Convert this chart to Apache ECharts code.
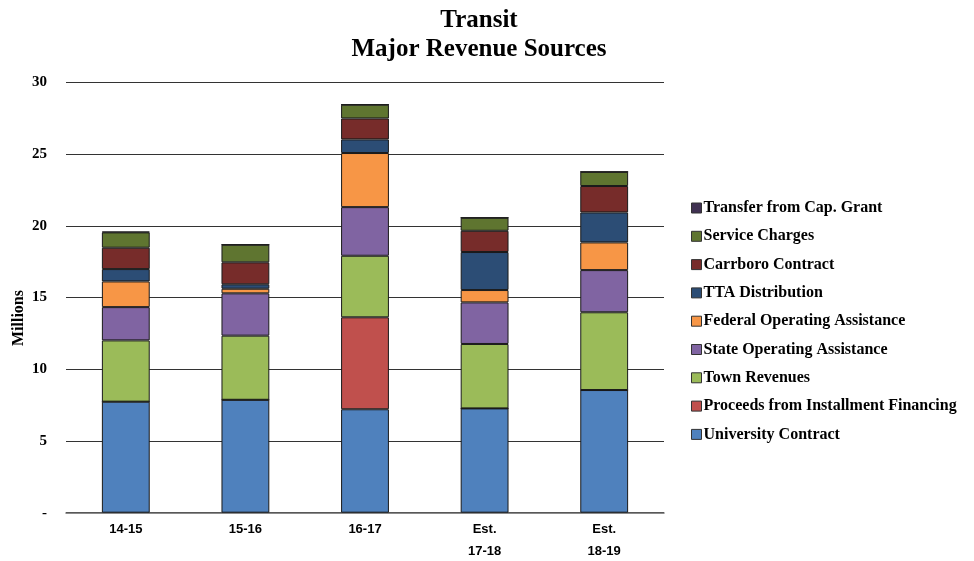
<!DOCTYPE html>
<html>
<head>
<meta charset="utf-8">
<script src="https://cdn.jsdelivr.net/npm/echarts@6/dist/echarts.min.js"></script>
<style>
  html, body { margin: 0; padding: 0; background: #fff; }
  #chart { width: 974px; height: 561px; }
</style>
</head>
<body>
<div id="chart"></div>
<script>
// Fiscal years on the category axis
const years = ['14-15', '15-16', '16-17', 'Est.\n17-18', 'Est.\n18-19'];

// Revenue by source, in millions of dollars
const universityContract = [7.74, 7.87, 7.21, 7.27, 8.55];
const installmentFinancing = [0, 0, 6.41, 0, 0];
const townRevenues = [4.27, 4.47, 4.29, 4.49, 5.42];
const stateOperating = [2.32, 2.95, 3.39, 2.90, 2.94];
const federalOperating = [1.79, 0.32, 3.77, 0.86, 1.93];
const ttaDistribution = [0.86, 0.31, 0.95, 2.65, 2.09];
const carrboroContract = [1.49, 1.53, 1.46, 1.48, 1.84];
const serviceCharges = [1.07, 1.23, 0.96, 0.91, 0.99];
const capGrantTransfer = [0.05, 0, 0, 0, 0];

// Y-axis ticks
const yTicks = [0, 5, 10, 15, 20, 25, 30];

const seriesDefs = [
  ['University Contract', universityContract, '#4F81BD'],
  ['Proceeds from Installment Financing', installmentFinancing, '#C0504D'],
  ['Town Revenues', townRevenues, '#9BBB59'],
  ['State Operating Assistance', stateOperating, '#8064A2'],
  ['Federal Operating Assistance', federalOperating, '#F79646'],
  ['TTA Distribution', ttaDistribution, '#2C4D75'],
  ['Carrboro Contract', carrboroContract, '#772C2A'],
  ['Service Charges', serviceCharges, '#5F7530'],
  ['Transfer from Cap. Grant', capGrantTransfer, '#403152']
];

const serif = '"Liberation Serif", "DejaVu Serif", serif';
const sans = '"Liberation Sans", "Open Sans", sans-serif';

const chart = echarts.init(document.getElementById('chart'));
chart.setOption({
  animation: false,
  title: {
    text: 'Transit\nMajor Revenue Sources',
    left: 474,
    textAlign: 'center',
    top: 1,
    textStyle: {
      fontFamily: serif, fontWeight: 'bold', fontSize: 25,
      lineHeight: 29, color: '#000'
    }
  },
  graphic: [{
    type: 'text',
    left: 11,
    top: 290,
    rotation: Math.PI / 2,
    style: {
      text: 'Millions',
      fontFamily: serif, fontWeight: 'bold', fontSize: 16, fill: '#000'
    }
  }],
  legend: {
    orient: 'vertical',
    left: 686,
    top: 194,
    icon: 'rect',
    itemWidth: 10,
    itemHeight: 10,
    itemGap: 10.3,
    data: seriesDefs.map(d => d[0]).reverse(),
    itemStyle: { borderColor: '#333', borderWidth: 1 },
    textStyle: {
      fontFamily: serif, fontWeight: 'bold', fontSize: 16,
      lineHeight: 18, color: '#000', padding: [0, 0, 0, -3]
    }
  },
  grid: {
    left: 66, right: 310, top: 82.3, bottom: 48.3,
    containLabel: false, outerBoundsMode: 'none'
  },
  xAxis: {
    type: 'category',
    data: years,
    axisTick: { show: false },
    axisLine: { lineStyle: { color: '#666', width: 1.5 } },
    axisLabel: {
      fontFamily: sans, fontWeight: 'bold', fontSize: 13,
      color: '#000', margin: 6, lineHeight: 22,
      verticalAlign: 'top'
    }
  },
  yAxis: {
    type: 'value',
    min: 0, max: 30, interval: 5,
    axisLabel: {
      fontFamily: serif, fontWeight: 'bold', fontSize: 15, color: '#000',
      margin: 19,
      formatter: v => (yTicks.includes(v) ? (v === 0 ? '-' : String(v)) : '')
    },
    axisLine: { show: false },
    axisTick: { show: false },
    splitLine: { lineStyle: { color: '#333', width: 1.2 } }
  },
  series: seriesDefs.map(([name, data, color]) => ({
    name,
    type: 'bar',
    stack: 'revenue',
    data,
    barCategoryGap: '60%',
    itemStyle: { color, borderColor: '#1a1a1a', borderWidth: 1 }
  }))
});
</script>
</body>
</html>
